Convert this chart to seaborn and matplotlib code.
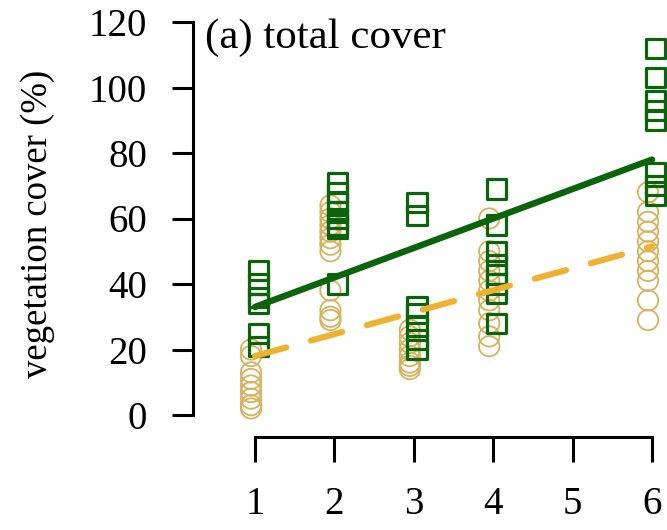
import numpy as np
import pandas as pd
import matplotlib
matplotlib.use("Agg")
import matplotlib.pyplot as plt
import seaborn as sns

# ---- data ----
sites = [1, 2, 3, 4, 6]
green_vals = {
    1: [44, 40, 36, 34, 25, 21],
    2: [71, 68, 65, 62, 60, 58, 57, 40],
    3: [65, 61, 33, 31, 27, 23, 20],
    4: [69, 58, 50, 46, 43, 40, 37, 28],
    6: [112, 103, 96, 93, 90, 74, 70, 67],
}
orange_vals = {
    1: [20, 18, 13, 11, 9, 7, 5, 3, 2],
    2: [64, 62, 60, 58, 56, 54, 52, 50, 38, 32, 30, 29],
    3: [26, 24, 22, 20, 18, 16, 15, 14],
    4: [60, 50, 47, 44, 41, 38, 35, 32, 28, 24, 21],
    6: [68, 62, 59, 56, 53, 50, 47, 44, 41, 35, 29],
}
fit_x = [1, 6]
fit_green = [33, 78]
fit_orange = [18, 51.5]
x_ticks = [1, 2, 3, 4, 5, 6]
y_ticks = [0, 20, 40, 60, 80, 100, 120]
panel_label = "(a) total cover"
y_label = "vegetation cover (%)"

green_df = pd.DataFrame([(s + 0.04, v) for s in sites for v in green_vals[s]], columns=["x", "y"])
orange_df = pd.DataFrame([(s - 0.05, v) for s in sites for v in orange_vals[s]], columns=["x", "y"])
fit_df_g = pd.DataFrame({"x": fit_x, "y": fit_green})
fit_df_o = pd.DataFrame({"x": fit_x, "y": fit_orange})

GREEN = "#0B640B"
TAN = "#D6B25E"
GOLD = "#EFB12F"

sns.set_style("white")
plt.rcParams["font.family"] = ["Liberation Serif", "DejaVu Serif"]
plt.rcParams["text.color"] = "black"
plt.rcParams["xtick.color"] = "black"
plt.rcParams["ytick.color"] = "black"
plt.rcParams["axes.labelcolor"] = "black"

W, H = 667, 530
fig = plt.figure(figsize=(W / 100, H / 100), dpi=100)
ax = fig.add_axes([193 / W, (530 - 437) / H, 1 - 193 / W, 437 / H])

sns.scatterplot(data=orange_df, x="x", y="y", ax=ax, marker="o", s=215,
                facecolor="none", edgecolor=TAN, linewidth=1.3, zorder=2)
sns.scatterplot(data=green_df, x="x", y="y", ax=ax, marker="s", s=190,
                facecolor="none", edgecolor=GREEN, linewidth=2.3, zorder=3)
sns.lineplot(data=fit_df_g, x="x", y="y", ax=ax, color=GREEN, linewidth=4.6, zorder=4)
sns.lineplot(data=fit_df_o, x="x", y="y", ax=ax, color=GOLD, linewidth=4.4,
             dashes=False, zorder=5)
ln = ax.lines[-1]
ln.set_dashes((5.3, 4.2))
ln.set_dash_capstyle("round")

px_x = 79.4
px_y = 3.275
ax.set_xlim(1 - (255 - 193) / px_x, 6 + (667 - 652) / px_x)
ax.set_ylim((415 - 437) / px_y, 415 / px_y)

for side in ["top", "right"]:
    ax.spines[side].set_visible(False)
ax.spines["left"].set_bounds(0, 120)
ax.spines["bottom"].set_bounds(1, 6)
for side in ["left", "bottom"]:
    ax.spines[side].set_linewidth(2.2)
    ax.spines[side].set_color("black")

ax.set_xticks(x_ticks)
ax.set_yticks(y_ticks)
ax.set_xticklabels([str(t) for t in x_ticks])
ax.set_yticklabels([str(t) for t in y_ticks])
ax.tick_params(axis="y", direction="out", length=15, width=2.2, pad=18, labelsize=28, left=True)
ax.tick_params(axis="x", direction="out", length=18, width=2.2, pad=17, labelsize=28, bottom=True)
ax.set_xlabel("")
ax.set_ylabel("")

fig.text(38 / W, 1 - 224 / H, y_label, rotation=90, ha="center", va="center", fontsize=26.5)
fig.text(205 / W, 1 - 48 / H, panel_label, ha="left", va="baseline", fontsize=31)

fig.savefig("out.png", dpi=100)
